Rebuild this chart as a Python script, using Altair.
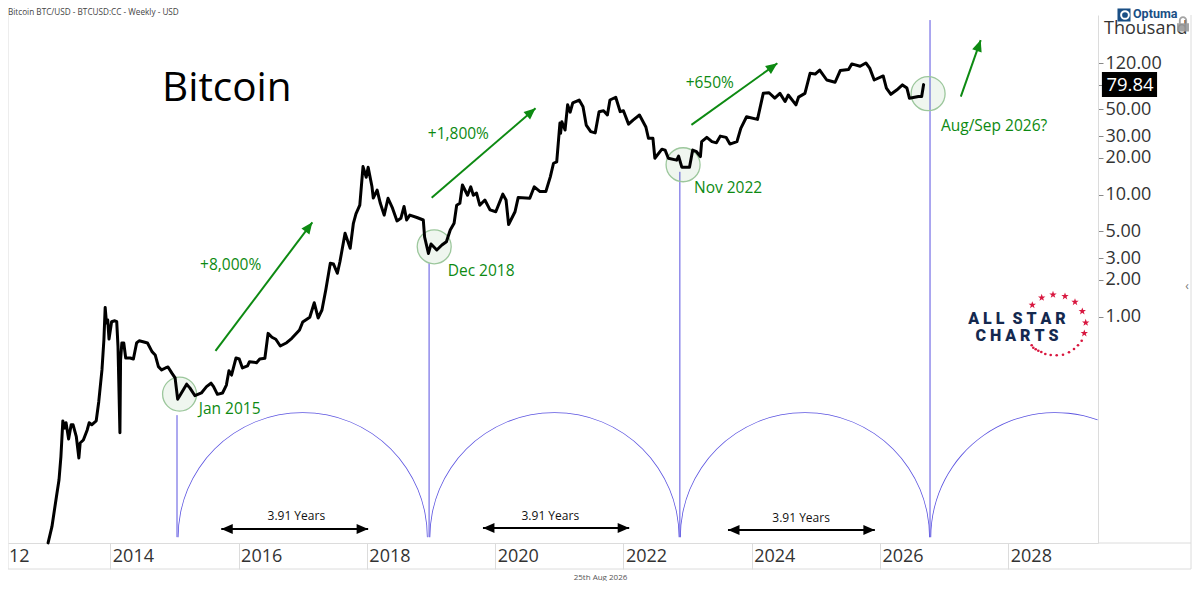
import altair as alt
import pandas as pd

# Weekly close: decimal year, price in USD thousands
years = [2013.03,2013.09,2013.16,2013.20,2013.23,2013.26,2013.29,2013.31,2013.35,2013.39,2013.42,2013.47,2013.51,2013.53,2013.58,2013.64,2013.67,2013.71,2013.78,2013.82,2013.87,2013.90,2013.92,2013.94,2013.96,2013.98,
2014.02,2014.07,2014.10,2014.12,2014.15,2014.16,2014.18,2014.21,2014.24,2014.31,2014.36,2014.41,2014.45,2014.51,2014.58,2014.65,2014.70,2014.75,2014.80,2014.86,2014.90,2014.96,
2015.01,2015.05,2015.09,2015.19,2015.24,2015.32,2015.42,2015.50,2015.57,2015.61,2015.67,2015.75,2015.81,2015.85,2015.89,2015.96,
2016.01,2016.06,2016.14,2016.17,2016.28,2016.33,2016.41,2016.46,2016.52,2016.58,2016.65,2016.75,2016.83,2016.95,
2017.00,2017.11,2017.18,2017.24,2017.30,2017.36,2017.43,2017.48,2017.54,2017.58,2017.66,2017.74,2017.79,2017.83,2017.89,2017.94,2017.99,
2018.02,2018.08,2018.10,2018.16,2018.21,2018.27,2018.33,2018.40,2018.47,2018.53,2018.58,2018.62,2018.67,2018.78,2018.88,2018.90,2018.96,
2019.00,2019.09,2019.17,2019.24,2019.30,2019.36,2019.40,2019.45,2019.49,2019.57,2019.62,2019.66,2019.71,2019.76,2019.84,2019.92,
2020.01,2020.12,2020.17,2020.21,2020.31,2020.36,2020.54,2020.61,2020.70,2020.79,2020.86,2020.91,2020.96,
2021.01,2021.02,2021.04,2021.09,2021.13,2021.17,2021.21,2021.31,2021.37,2021.42,2021.49,2021.56,2021.62,2021.69,2021.75,2021.79,2021.88,2021.95,
2022.00,2022.08,2022.15,2022.25,2022.35,2022.39,2022.46,2022.49,2022.60,2022.65,2022.70,2022.83,2022.86,2022.91,
2023.03,2023.08,2023.14,2023.20,2023.22,2023.30,2023.38,2023.45,2023.51,2023.60,2023.66,2023.77,2023.83,2023.92,
2024.09,2024.18,2024.27,2024.36,2024.44,2024.52,2024.57,2024.69,2024.73,2024.83,2024.91,2024.99,
2025.06,2025.17,2025.30,2025.38,2025.51,2025.56,2025.69,2025.78,2025.84,2025.91,
2026.05,2026.10,2026.17,2026.26,2026.35,2026.42,2026.46,2026.60,2026.65,2026.68]
prices = [.014,.019,.0335,.0458,.0712,.14,.122,.135,.0995,.13,.13,.104,.0695,.0922,.0976,.118,.135,.13,.14,.201,.366,.644,1.19,.888,.94,.656,
.91,.927,.91,.568,.112,.442,.609,.609,.459,.459,.45,.609,.635,.623,.609,.517,.486,.39,.366,.38,.387,.345,
.315,.211,.228,.28,.261,.225,.237,.267,.285,.267,.231,.237,.275,.361,.332,.459,
.45,.38,.395,.428,.42,.45,.456,.73,.678,.653,.575,.612,.665,.778,
.905,.99,1.3,.976,1.135,1.66,2.74,2.7,2.27,2.82,4.83,3.64,5.83,6.95,8.2,17.0,13.9,
16.8,11.6,9.4,10.9,8.5,6.8,9.35,7.75,6.1,6.4,8.0,6.2,6.8,6.5,6.2,4.5,3.3,
3.94,3.52,3.87,4.12,5.14,5.83,8.2,8.5,12,9.9,11.6,9.9,10.3,8.2,9.05,7.5,
7.25,10.1,9.05,5.7,7.25,9.5,9.35,11.6,10.6,10.6,14.0,18.1,18.6,
38.6,31.9,39.6,33.9,54.5,47.5,56.5,59.7,52.6,37.2,32.9,32.1,47.9,48.8,45,59.7,62.9,47.9,
48.8,37.9,40.9,45,35.9,29,29,19.9,23.6,23.2,19.9,19.2,20.7,16.8,
16.8,23.2,22.5,20.5,27.2,29.5,27.2,26.6,30.2,29.5,26,27.2,35,43.5,
41.4,67.7,68.5,61.9,67.7,58,65.6,54.5,63,67.7,98.8,97.5,
105,87.1,83.5,104,106,118,113,120,109,87.1,
94,74.8,66.5,72.1,79.4,74.8,61.7,63.7,63.7,79.84]

x_ticks = [2014,2016,2018,2020,2022,2024,2026,2028]
y_ticks = [1,2,3,5,10,20,30,50,79.84,120]

cycle_years = [2015.04,2018.97,2022.88,2026.78]
cycle_tops = [.156,2.75,15.4,270]
cycle_base = .0156
arc_mids = [2017.0,2020.925,2024.83]
arc_mid_last = 2028.735

circle_years = [2015.08,2019.05,2022.93,2026.75]
circle_prices = [.232,3.74,17.6,67.3]

gain_labels = ["+8,000%","+1,800%","+650%"]
gain_years = [2015.40,2018.95,2022.97]
gain_prices = [2.65,31.4,82.3]
date_labels = ["Jan 2015","Dec 2018","Nov 2022","Aug/Sep 2026?"]
date_years = [2015.38,2019.26,2023.10,2026.95]
date_prices = [.175,2.38,11.4,36.6]

arrow_x0 = [2015.64,2019.01,2023.06,2027.26]
arrow_y0 = [.524,9.45,37.3,63.6]
arrow_x1 = [2017.15,2020.63,2024.40,2027.57]
arrow_y1 = [5.94,51.1,119.4,185]
arrow_angle = [36.9,49.3,54.3,19.2]

span_x0 = [2015.73,2019.81,2023.63]
span_x1 = [2018.02,2022.09,2025.92]
span_y = [.0182,.01854,.01785]
span_text_x = [2016.90,2020.86,2024.77]
span_text_y = [.0232,.0232,.0224]

star_px = [1032.3,1041.7,1053,1065,1075,1082.3,1085.7,1084.3]
star_py = [305,297.7,294.7,296.3,302,311.3,322.7,333.3]
dot_px = [1081.7,1078,1074,1069,1063,1056.7,1050.7,1045.3,1041.3,1038.3,1035.7,1033.3,1031.7]
dot_py = [340.7,345.3,349,352.3,354.7,355.3,355,354,352,350.7,349.3,347.7,345.3]

FONT = "Open Sans"
GREEN = "#0d8a12"
BLUE = "#5a52e0"
BORDER = "#dcdcdc"
INK = "#333333"
HEAD = "M0,0L-1,2.3L1,2.3Z"
STAR = "M0,-1L.24,-.31L.95,-.31L.38,.12L.59,.81L0,.38L-.59,.81L-.38,.12L-.95,-.31L-.24,-.31Z"
LOCK = "M-.8,-.1H.8V1H-.8ZM-.55,-.1V-.5A.55,.55 0 0 1 .55,-.5V-.1H.3V-.5A.3,.3 0 0 0 -.3,-.5V-.1Z"

x_scale = alt.Scale(domain=[2012.405, 2029.399], nice=False, zero=False)
y_scale = alt.Scale(type="log", base=10, domain=[0.01397, 297], nice=False)

x_axis = alt.Axis(title="25th Aug 2026", values=x_ticks, format="d", grid=False, tickSize=26, tickColor=BORDER,
                  domainColor=BORDER, labelFont=FONT, labelFontSize=18, labelColor=INK,
                  labelAlign="left", labelBaseline="middle", labelPadding=-12.3,
                  labelOffset=2, labelOverlap=False, labelFlush=False,
                  titleFont=FONT, titleFontSize=8, titleFontWeight="normal", titleColor="#555555",
                  titleX=592, titleY=34, titleBaseline="middle", titleAlign="center")
y_axis = alt.Axis(title=None, orient="right", values=y_ticks, format=".2f", grid=False, tickSize=5,
                  tickColor="#888888", domainColor=BORDER, labelFont=FONT, labelFontSize=18,
                  labelColor=INK, labelPadding=2, labelOverlap=False, labelFlush=False)

def X(f="x"):
    return alt.X(f"{f}:Q", scale=x_scale, axis=x_axis)

def Y(f="y"):
    return alt.Y(f"{f}:Q", scale=y_scale, axis=y_axis)

def words(labels, xs, ys, **style):
    style.setdefault("font", FONT)
    style.setdefault("baseline", "middle")
    style.setdefault("align", "left")
    df = pd.DataFrame({"t": labels, "x": xs, "y": ys})
    return alt.Chart(df).mark_text(**style).encode(x=X(), y=Y(), text="t:N")

def chrome_text(label, x, y, **style):
    style.setdefault("font", FONT)
    style.setdefault("baseline", "middle")
    style.setdefault("align", "left")
    return alt.Chart(pd.DataFrame({"t": [label]})).mark_text(**style).encode(
        x=alt.value(x - 8), y=alt.value(y - 15), text="t:N")

def hline(x0, x1, y, color=BORDER):
    return alt.Chart(pd.DataFrame({"a": [0]})).mark_rule(color=color, strokeWidth=1).encode(
        x=alt.value(x0 - 8), x2=alt.value(x1 - 8), y=alt.value(y - 15))

def vline(x, y0, y1, color=BORDER):
    return alt.Chart(pd.DataFrame({"a": [0]})).mark_rule(color=color, strokeWidth=1).encode(
        x=alt.value(x - 8), y=alt.value(y0 - 15), y2=alt.value(y1 - 15))

def glyph(px_list, py_list, **style):
    layers = []
    for a, b in zip(px_list, py_list):
        layers.append(alt.Chart(pd.DataFrame({"a": [0]})).mark_point(**style).encode(
            x=alt.value(a - 8), y=alt.value(b - 15)))
    return layers

price_df = pd.DataFrame({"x": years, "y": prices})

cycle_df = pd.DataFrame({"x": cycle_years, "y": cycle_tops, "y2": [cycle_base] * 4})
cycles = alt.Chart(cycle_df).mark_rule(color=BLUE, strokeWidth=1).encode(x=X(), y=Y(), y2="y2:Q")

arc_df = pd.DataFrame({"x": arc_mids, "y": [cycle_base] * 3})
arcs = alt.Chart(arc_df).mark_arc(radius=125, radius2=124.2, theta=4.7124, theta2=7.854, color=BLUE).encode(x=X(), y=Y())
arc_last = alt.Chart(pd.DataFrame({"x": [arc_mid_last], "y": [cycle_base]})).mark_arc(
    radius=125, radius2=124.2, theta=4.7124, theta2=6.6287, color=BLUE).encode(x=X(), y=Y())

circles = alt.Chart(pd.DataFrame({"x": circle_years, "y": circle_prices})).mark_point(
    shape="circle", size=1156, filled=False, fill="#2e8b2e", fillOpacity=0.08,
    stroke="#9cc79c", strokeWidth=1.3, opacity=1).encode(x=X(), y=Y())

arrow_df = pd.DataFrame({"x": arrow_x0, "y": arrow_y0, "x2": arrow_x1, "y2": arrow_y1, "a": arrow_angle})
arrow_lines = alt.Chart(arrow_df).mark_rule(color=GREEN, strokeWidth=2).encode(x=X(), y=Y(), x2="x2:Q", y2="y2:Q")
arrow_heads = alt.Chart(arrow_df).mark_point(shape=HEAD, size=100, filled=True, color=GREEN, opacity=1).encode(
    x=X("x2"), y=Y("y2"), angle=alt.Angle("a:Q", scale=None))

span_df = pd.DataFrame({"x": span_x0, "x2": span_x1, "y": span_y})
span_lines = alt.Chart(span_df).mark_rule(color="#000000", strokeWidth=2).encode(x=X(), x2="x2:Q", y=Y())
span_left = alt.Chart(span_df).mark_point(shape=HEAD, size=100, filled=True, color="#000000", opacity=1, angle=270).encode(x=X("x"), y=Y())
span_right = alt.Chart(span_df).mark_point(shape=HEAD, size=100, filled=True, color="#000000", opacity=1, angle=90).encode(x=X("x2"), y=Y())

price_box = alt.Chart(pd.DataFrame({"x": [2029.46], "x2": [2030.32], "y": [101.3], "y2": [63.2]})).mark_rect(color="#000000").encode(
    x=X(), x2="x2:Q", y=Y(), y2="y2:Q")

stars = glyph(star_px, star_py, shape=STAR, size=60, filled=True, color="#d8173f", opacity=1)
dots = glyph(dot_px, dot_py, shape="circle", size=7, filled=True, color="#d8173f", opacity=1)
lock = glyph([1183], [24], shape=LOCK, size=225, filled=True, color="#9a9a9a", opacity=0.9)
opt_icon = glyph([1124], [15], shape="square", size=170, filled=True, color="#1a4f85", opacity=1)
opt_ring = glyph([1125], [15], shape="circle", size=60, filled=False, stroke="#ffffff", strokeWidth=2, opacity=1)

layers = [
    hline(8, 1191, 569), hline(1098, 1191, 543), vline(1191, 15, 569), vline(8, 15, 569),
    cycles, arcs, arc_last, circles,
    alt.Chart(price_df).mark_line(color="#000000", strokeWidth=3, strokeJoin="round", strokeCap="round").encode(x=X(), y=Y()),
    arrow_lines, arrow_heads, span_lines, span_left, span_right,
    words(gain_labels, gain_years, gain_prices, fontSize=15.5, color=GREEN),
    words(date_labels, date_years, date_prices, fontSize=15.5, color=GREEN),
    words(["3.91 Years"] * 3, span_text_x, span_text_y, fontSize=12, color="#111111", align="center"),
    price_box,
    chrome_text("79.84", 1130, 85, fontSize=18.5, color="#ffffff", align="center"),
    chrome_text("Thousand", 1104, 29, fontSize=18, color=INK),
    chrome_text("Optuma", 1133, 14, fontSize=12.5, color="#1a4f85", font="Roboto", fontWeight="bold"),
    chrome_text("Bitcoin BTC/USD - BTCUSD:CC - Weekly - USD", 8, 13, fontSize=8.2, color="#444444"),
    chrome_text("Bitcoin", 162, 88.5, fontSize=40.5, color="#000000"),
    chrome_text("12", 9, 557, fontSize=18, color=INK),
    chrome_text("\u2039", 1187, 286, fontSize=12, color="#777777", align="center"),
    chrome_text("A\u00a0L\u00a0L\u00a0\u00a0S\u00a0T\u00a0A\u00a0R", 1017, 319, fontSize=16, color="#14294f", font="Roboto", fontWeight=900, align="center"),
    chrome_text("C\u00a0H\u00a0A\u00a0R\u00a0T\u00a0S", 1017, 336, fontSize=16, color="#14294f", font="Roboto", fontWeight=900, align="center"),
] + lock + opt_icon + opt_ring + stars + dots

chart = alt.layer(*layers).properties(
    width=1090, height=528,
    padding={"left": 0, "top": 7, "right": 94, "bottom": 38},
    autosize=alt.AutoSizeParams(type="none"),
    background="#ffffff",
).configure_view(stroke=None)

chart.save("out.html", embed_options={"renderer": "svg", "actions": False})
